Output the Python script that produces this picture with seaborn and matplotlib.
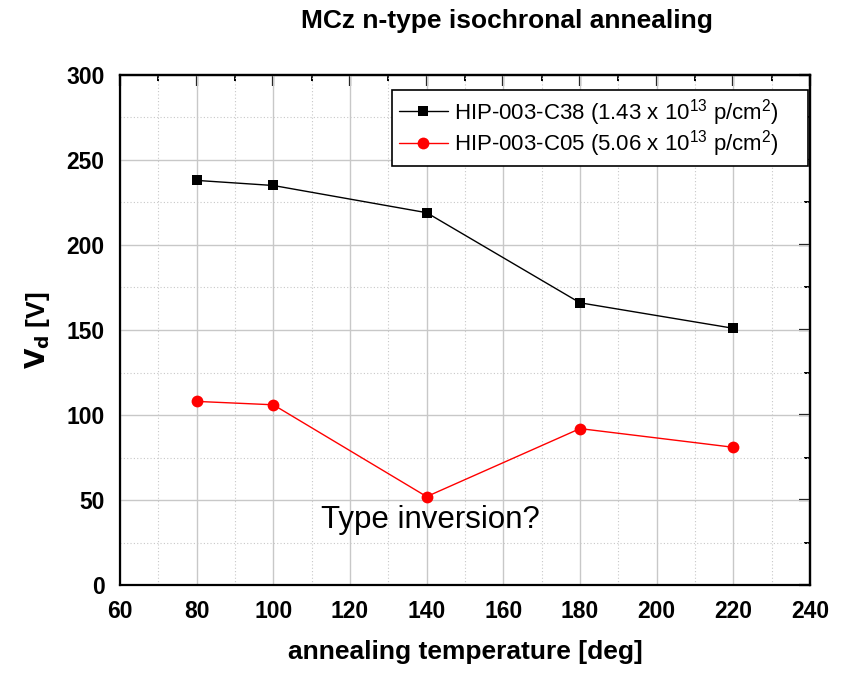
import matplotlib
matplotlib.use("Agg")
import matplotlib.pyplot as plt
import seaborn as sns
import pandas as pd
from matplotlib.ticker import MultipleLocator

# Annealing temperatures and full depletion voltages
temperature = [80, 100, 140, 180, 220]
vd_c38 = [238, 235, 219, 166, 151]
vd_c05 = [108, 106, 52, 92, 81]
labels = [r"HIP-003-C38 (1.43 x 10$^{13}$ p/cm$^{2}$)",
          r"HIP-003-C05 (5.06 x 10$^{13}$ p/cm$^{2}$)"]

df = pd.concat([
    pd.DataFrame({"T": temperature, "Vd": vd_c38, "sample": labels[0]}),
    pd.DataFrame({"T": temperature, "Vd": vd_c05, "sample": labels[1]}),
])

sns.set_style("white")
plt.rcParams["font.family"] = ["Liberation Sans", "DejaVu Sans"]
plt.rcParams["mathtext.default"] = "regular"
for key in ("text.color", "axes.labelcolor", "xtick.color", "ytick.color"):
    plt.rcParams[key] = "black"

W, H = 846, 675
fig = plt.figure(figsize=(W / 100, H / 100), dpi=100)
ax = fig.add_axes([120 / W, 1 - 585 / H, 690 / W, 510 / H])

marker_sizes = [7.5, 8.5]
sns.lineplot(data=df, x="T", y="Vd", hue="sample", style="sample",
             palette=["black", "red"], markers=["s", "o"], dashes=False,
             markersize=marker_sizes[0], linewidth=1, markeredgewidth=0,
             ax=ax, zorder=3)
# circles slightly larger than squares
ax.lines[1].set_markersize(marker_sizes[1])

ax.set_xlim(60, 240)
ax.set_ylim(0, 300)
ax.xaxis.set_major_locator(MultipleLocator(20))
ax.xaxis.set_minor_locator(MultipleLocator(10))
ax.yaxis.set_major_locator(MultipleLocator(50))
ax.yaxis.set_minor_locator(MultipleLocator(25))

ax.grid(which="major", color="#c8c8c8", linewidth=1, linestyle="-", zorder=0)
ax.grid(which="minor", color="#c8c8c8", linewidth=0.8, linestyle=(0, (1, 2)), zorder=0)
ax.set_axisbelow(True)

for s in ax.spines.values():
    s.set_color("black")
    s.set_linewidth(1.6)

ax.tick_params(axis="both", which="major", length=8, width=1.6, color="black",
               labelsize=16.5, direction="out", top=False, right=False, pad=3)
ax.tick_params(axis="both", which="minor", length=4, width=1.4, color="black",
               direction="out")
for lab in ax.get_xticklabels() + ax.get_yticklabels():
    lab.set_fontweight("bold")

# inward ticks on top and right edges
top = ax.secondary_xaxis("top")
top.xaxis.set_major_locator(MultipleLocator(20))
top.xaxis.set_minor_locator(MultipleLocator(10))
right = ax.secondary_yaxis("right")
right.yaxis.set_major_locator(MultipleLocator(50))
right.yaxis.set_minor_locator(MultipleLocator(25))
for sec, pos, axis in ((top, "top", top.xaxis), (right, "right", right.yaxis)):
    sec.tick_params(which="major", length=8, width=1.6, direction="in")
    sec.tick_params(which="minor", length=4, width=1.4, direction="in")
    axis.set_ticklabels([])
    sec.spines[pos].set_linewidth(1.6)

ax.set_xlabel("annealing temperature [deg]", fontsize=19, fontweight="bold", labelpad=12)
ax.set_ylabel(r"$\mathbf{V_d}$ [V]", fontsize=19, fontweight="bold", labelpad=10)

fig.text(507 / W, 1 - 21 / H, "MCz n-type isochronal annealing",
         fontsize=19, fontweight="bold", ha="center", va="center")

ax.text(141, 38, "Type inversion?", fontsize=22.5, ha="center", va="center")

x0, x1, y0 = (392 - 120) / 690, (808 - 120) / 690, (585 - 90) / 510
leg = ax.legend(loc="upper left", bbox_to_anchor=(x0, y0 - 0.2, x1 - x0, 0.2),
                mode="expand", borderaxespad=0, fontsize=16, frameon=True,
                fancybox=False, edgecolor="black", framealpha=1,
                handlelength=2.2, handletextpad=0.3, borderpad=0.3,
                labelspacing=0.03)
leg.get_frame().set_linewidth(1.2)
for handle, size in zip(leg.legend_handles, marker_sizes):
    handle.set_markersize(size)
    handle.set_markeredgewidth(0)

fig.savefig("out.png", dpi=100)
